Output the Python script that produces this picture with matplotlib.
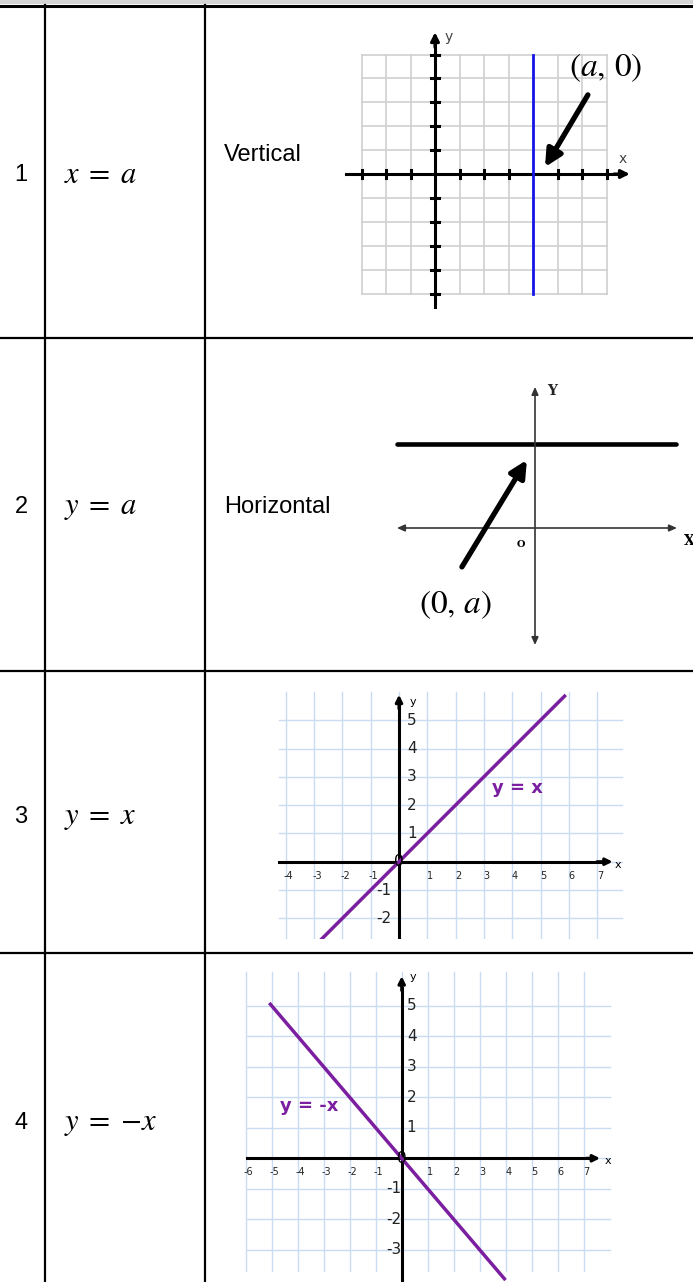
import matplotlib
matplotlib.use("Agg")
import matplotlib.pyplot as plt

W, H = 693, 1282

# table content
row_numbers = ["1", "2", "3", "4"]
row_equations = [r"$x\;=\;a$", r"$y\;=\;a$", r"$y\;=\;x$", r"$y\;=\;{-x}$"]
row_names = ["Vertical", "Horizontal", "", ""]

# graph 1: vertical line x = a
g1_grid_x = list(range(-3, 8))
g1_grid_y = list(range(-5, 6))
g1_a = 4
g1_ticks_x = [-3, -2, -1, 1, 2, 3, 5, 6, 7]
g1_ticks_y = [-5, -4, -3, -2, -1, 1, 2, 3, 4, 5]

# graph 2: horizontal line y = a
g2_a = 3

# graph 3: y = x
g3_grid_x = list(range(-4, 8))
g3_grid_y = list(range(-2, 6))
g3_xlabels = [-4, -3, -2, -1, 1, 2, 3, 4, 5, 6, 7]
g3_ylabels = [-2, -1, 1, 2, 3, 4, 5]
g3_line_x = [-2.78, 5.85]

# graph 4: y = -x
g4_grid_x = list(range(-6, 8))
g4_grid_y = list(range(-3, 6))
g4_xlabels = [-6, -5, -4, -3, -2, -1, 1, 2, 3, 4, 5, 6, 7]
g4_ylabels = [-3, -2, -1, 1, 2, 3, 4, 5]
g4_line_x = [-5.05, 3.95]

PURPLE = "#7b1fa0"
GRID_BLUE = "#c9dcf2"

plt.rcParams["mathtext.fontset"] = "stix"
plt.rcParams["font.family"] = ["Liberation Sans", "DejaVu Sans"]

fig = plt.figure(figsize=(W / 100, H / 100), dpi=100)

# table frame in pixel coordinates
table = fig.add_axes([0, 0, 1, 1])
table.set_xlim(0, W)
table.set_ylim(H, 0)
table.set_axis_off()
table.axhspan(0, 4, color="#d4d4d4", lw=0)
table.axhline(5.5, color="black", lw=2.2)
for y in [338, 671, 953]:
    table.axhline(y, color="black", lw=1.6)
for x in [45, 205]:
    table.plot([x, x], [5, H], color="black", lw=1.6)

row_y = [175, 507, 817, 1123]
name_y = [155, 507, 817, 1123]
for num, eq, name, ry, ny in zip(row_numbers, row_equations, row_names, row_y, name_y):
    table.text(21, ry, num, fontsize=17, ha="center", va="center")
    table.text(64, ry, eq, fontsize=22, ha="left", va="center")
    if name:
        table.text(224, ny, name, fontsize=17, ha="left", va="center")


def add_graph(origin, unit, xlim, ylim):
    ox, oy = origin
    ux, uy = unit
    left = ox + xlim[0] * ux
    right = ox + xlim[1] * ux
    top = oy - ylim[1] * uy
    bottom = oy - ylim[0] * uy
    axis = fig.add_axes([left / W, 1 - bottom / H, (right - left) / W, (bottom - top) / H])
    axis.set_xlim(*xlim)
    axis.set_ylim(*ylim)
    axis.set_axis_off()
    return axis


def arrow(axis, start, end, lw, color="black", head="-|>,head_width=0.35,head_length=0.7"):
    axis.annotate("", xy=end, xytext=start,
                  arrowprops=dict(arrowstyle=head, lw=lw, color=color,
                                  shrinkA=0, shrinkB=0),
                  annotation_clip=False)


# ---- graph 1
ax1 = add_graph((435, 174), (24.5, 23.9), (-4.2, 9.6), (-6.5, 7.2))
for gx in g1_grid_x:
    ax1.plot([gx, gx], [-5, 5], color="#cfcfcf", lw=1.2, zorder=1)
for gy in g1_grid_y:
    ax1.plot([-3, 7], [gy, gy], color="#cfcfcf", lw=1.2, zorder=1)
ax1.plot([-3.64, 7.6], [0, 0], color="black", lw=2.2, zorder=3)
ax1.plot([0, 0], [-5.55, 5.6], color="black", lw=2.2, zorder=3)
arrow(ax1, (7.3, 0), (7.95, 0), 2.2, head="-|>,head_width=0.25,head_length=0.5")
arrow(ax1, (0, 5.3), (0, 5.93), 2.2, head="-|>,head_width=0.25,head_length=0.5")
for tx in g1_ticks_x:
    ax1.plot([tx, tx], [-0.15, 0.15], color="black", lw=2.2, zorder=3)
for ty in g1_ticks_y:
    ax1.plot([-0.15, 0.15], [ty, ty], color="black", lw=2.2, zorder=3)
ax1.plot([g1_a, g1_a], [-5, 5], color="#1515e8", lw=2, zorder=4)
ax1.text(7.67, 0.62, "x", fontsize=10, color="#444444", ha="center", va="center",
         family="DejaVu Sans")
ax1.text(0.55, 5.72, "y", fontsize=10, color="#444444", ha="center", va="center",
         family="DejaVu Sans")
ax1.text(6.95, 4.45, r"$(a,\,0)$", fontsize=24, ha="center", va="center")
arrow(ax1, (6.24, 3.31), (4.49, 0.29), 3.8,
      head="-|>,head_width=0.5,head_length=1.0")

# ---- graph 2
ax2 = add_graph((535, 528), (28, 28), (-5.3, 5.6), (-4.6, 5.5))
arrow(ax2, (-4.93, 0), (5.07, 0), 1.2, color="#333333",
      head="<|-|>,head_width=0.2,head_length=0.45")
arrow(ax2, (0, -4.18), (0, 5.04), 1.2, color="#333333",
      head="<|-|>,head_width=0.2,head_length=0.45")
ax2.plot([-4.93, 5.04], [g2_a, g2_a], color="black", lw=3.3, solid_capstyle="round")
ax2.text(0.6, 4.9, "Y", fontsize=10, fontweight="bold", family="DejaVu Serif",
         color="#222222", ha="center", va="center")
ax2.text(-0.5, -0.6, "O", fontsize=7, fontweight="bold", family="DejaVu Serif",
         ha="center", va="center")
ax2.text(5.5, -0.45, "X", fontsize=10, fontweight="bold", family="DejaVu Serif",
         ha="center", va="center")
ax2.text(-2.85, -2.75, r"$(0,\,a)$", fontsize=24, ha="center", va="center")
arrow(ax2, (-2.61, -1.39), (-0.29, 2.43), 3.8,
      head="-|>,head_width=0.5,head_length=1.0")

# ---- graph 3
ax3 = add_graph((399, 861.7), (28.3, 28.3), (-4.6, 8.2), (-2.72, 6.3))
for gx in g3_grid_x:
    ax3.plot([gx, gx], [-3, 6.0], color=GRID_BLUE, lw=1.0, zorder=1)
for gy in g3_grid_y:
    ax3.plot([-4.25, 7.87], [gy, gy], color=GRID_BLUE, lw=1.0, zorder=1)
ax3.plot([-4.25, 7.2], [0, 0], color="black", lw=2.2, zorder=3)
ax3.plot([0, 0], [-3, 5.6], color="black", lw=2.2, zorder=3)
arrow(ax3, (7.0, 0), (7.55, 0), 2.2, head="-|>,head_width=0.2,head_length=0.4")
arrow(ax3, (0, 5.4), (0, 5.9), 2.2, head="-|>,head_width=0.2,head_length=0.4")
for lx in g3_xlabels:
    ax3.text(lx + 0.1, -0.5, str(lx), fontsize=7, ha="center", va="center",
             family="DejaVu Sans", color="#222222")
for ly in g3_ylabels:
    lx = 0.45 if ly > 0 else -0.55
    ax3.text(lx, ly, str(ly), fontsize=11, ha="center", va="center",
             family="DejaVu Sans", color="#222222")
ax3.plot(g3_line_x, g3_line_x, color=PURPLE, lw=2.5, zorder=4)
ax3.text(0, 0, "0", fontsize=11, ha="center", va="center", family="DejaVu Sans",
         zorder=5)
ax3.text(0.48, 5.65, "y", fontsize=8, ha="center", va="center", family="DejaVu Sans")
ax3.text(7.75, -0.12, "x", fontsize=8, ha="center", va="center", family="DejaVu Sans")
ax3.text(4.2, 2.6, "y = x", fontsize=13, fontweight="bold", color=PURPLE,
         ha="center", va="center", family="DejaVu Sans")

# ---- graph 4
ax4 = add_graph((401.7, 1158.3), (26, 30.5), (-6.3, 8.2), (-4.06, 6.3))
for gx in g4_grid_x:
    ax4.plot([gx, gx], [-3.7, 6.1], color=GRID_BLUE, lw=1.0, zorder=1)
for gy in g4_grid_y:
    ax4.plot([-5.95, 8.0], [gy, gy], color=GRID_BLUE, lw=1.0, zorder=1)
ax4.plot([-5.95, 7.3], [0, 0], color="black", lw=2.2, zorder=3)
ax4.plot([0, 0], [-4.1, 5.6], color="black", lw=2.2, zorder=3)
arrow(ax4, (7.1, 0), (7.63, 0), 2.2, head="-|>,head_width=0.2,head_length=0.4")
arrow(ax4, (0, 5.5), (0, 5.97), 2.2, head="-|>,head_width=0.2,head_length=0.4")
for lx in g4_xlabels:
    ax4.text(lx + 0.1, -0.46, str(lx), fontsize=7, ha="center", va="center",
             family="DejaVu Sans", color="#222222")
for ly in g4_ylabels:
    lx = 0.38 if ly > 0 else -0.3
    ax4.text(lx, ly, str(ly), fontsize=11, ha="center", va="center",
             family="DejaVu Sans", color="#222222")
ax4.plot(g4_line_x, [-v for v in g4_line_x], color=PURPLE, lw=2.5, zorder=4)
ax4.text(0, 0, "0", fontsize=11, ha="center", va="center", family="DejaVu Sans",
         zorder=5)
ax4.text(0.45, 5.95, "y", fontsize=8, ha="center", va="center", family="DejaVu Sans")
ax4.text(7.95, -0.1, "x", fontsize=8, ha="center", va="center", family="DejaVu Sans")
ax4.text(-3.55, 1.7, "y = -x", fontsize=13, fontweight="bold", color=PURPLE,
         ha="center", va="center", family="DejaVu Sans")

fig.savefig("out.png", dpi=100)
